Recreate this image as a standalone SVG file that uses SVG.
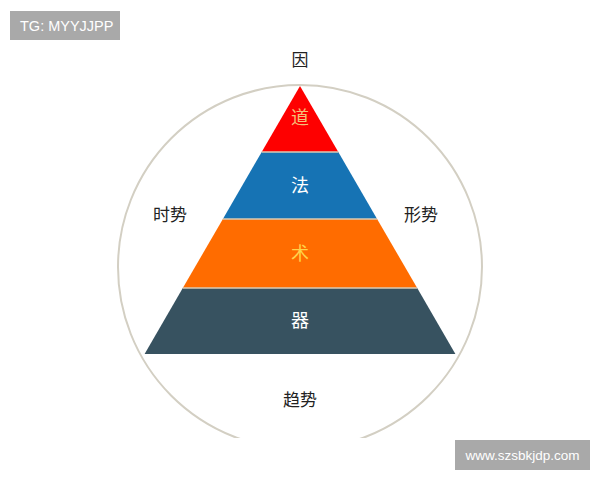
<svg xmlns="http://www.w3.org/2000/svg" width="600" height="480" viewBox="0 0 600 480">
<style>
.lbl{font-family:"Noto Sans CJK SC","Noto Sans",sans-serif;font-size:17px;fill:#222;text-anchor:middle}
.band{font-family:"Noto Sans CJK SC","Noto Sans",sans-serif;font-size:18px;text-anchor:middle}
.wm{font-family:"Liberation Sans",Arial,sans-serif;fill:#fff}
.sep{stroke:#d9cbb4;stroke-width:1.5}
</style>
<defs>
<clipPath id="clipC"><rect x="0" y="0" width="600" height="438"/></clipPath>
</defs>
<rect width="600" height="480" fill="#fff"/>
<g id="circle">
<circle cx="300" cy="267" r="182" fill="none" stroke="#d3cfc3" stroke-width="2" clip-path="url(#clipC)"/>
</g>
<g id="dao">
<polygon points="300,86 338.3,152 261.7,152" fill="#fe0000"/>
<text class="band" x="300" y="124" fill="#f5c07a">道</text>
</g>
<g id="fa">
<polygon points="261.7,152 338.3,152 377.1,219 222.9,219" fill="#1673b4"/>
<text class="band" x="300" y="192" fill="#ffffff">法</text>
</g>
<g id="shu">
<polygon points="222.9,219 377.1,219 417.2,288 182.8,288" fill="#ff6c00"/>
<text class="band" x="300" y="260" fill="#ffd24a">术</text>
</g>
<g id="qi">
<polygon points="182.8,288 417.2,288 455.4,354 144.6,354" fill="#375260"/>
<text class="band" x="300" y="327" fill="#ffffff">器</text>
</g>
<g id="connectors">
<line class="sep" x1="261.7" y1="152" x2="338.3" y2="152"/>
<line class="sep" x1="222.9" y1="219" x2="377.1" y2="219"/>
<line class="sep" x1="182.8" y1="288" x2="417.2" y2="288"/>
</g>
<g id="labels">
<text class="lbl" x="300" y="66">因</text>
<text class="lbl" x="170" y="221">时势</text>
<text class="lbl" x="421" y="221">形势</text>
<text class="lbl" x="300" y="406">趋势</text>
</g>
<g id="wm1">
<rect x="10" y="11" width="110" height="29" fill="#a9a9a9"/>
<text class="wm" x="20" y="31" font-size="14.5">TG: MYYJJPP</text>
</g>
<g id="wm2">
<rect x="455" y="440" width="135" height="30" fill="#a9a9a9"/>
<text class="wm" x="522.5" y="460" font-size="13.5" text-anchor="middle">www.szsbkjdp.com</text>
</g>
</svg>
